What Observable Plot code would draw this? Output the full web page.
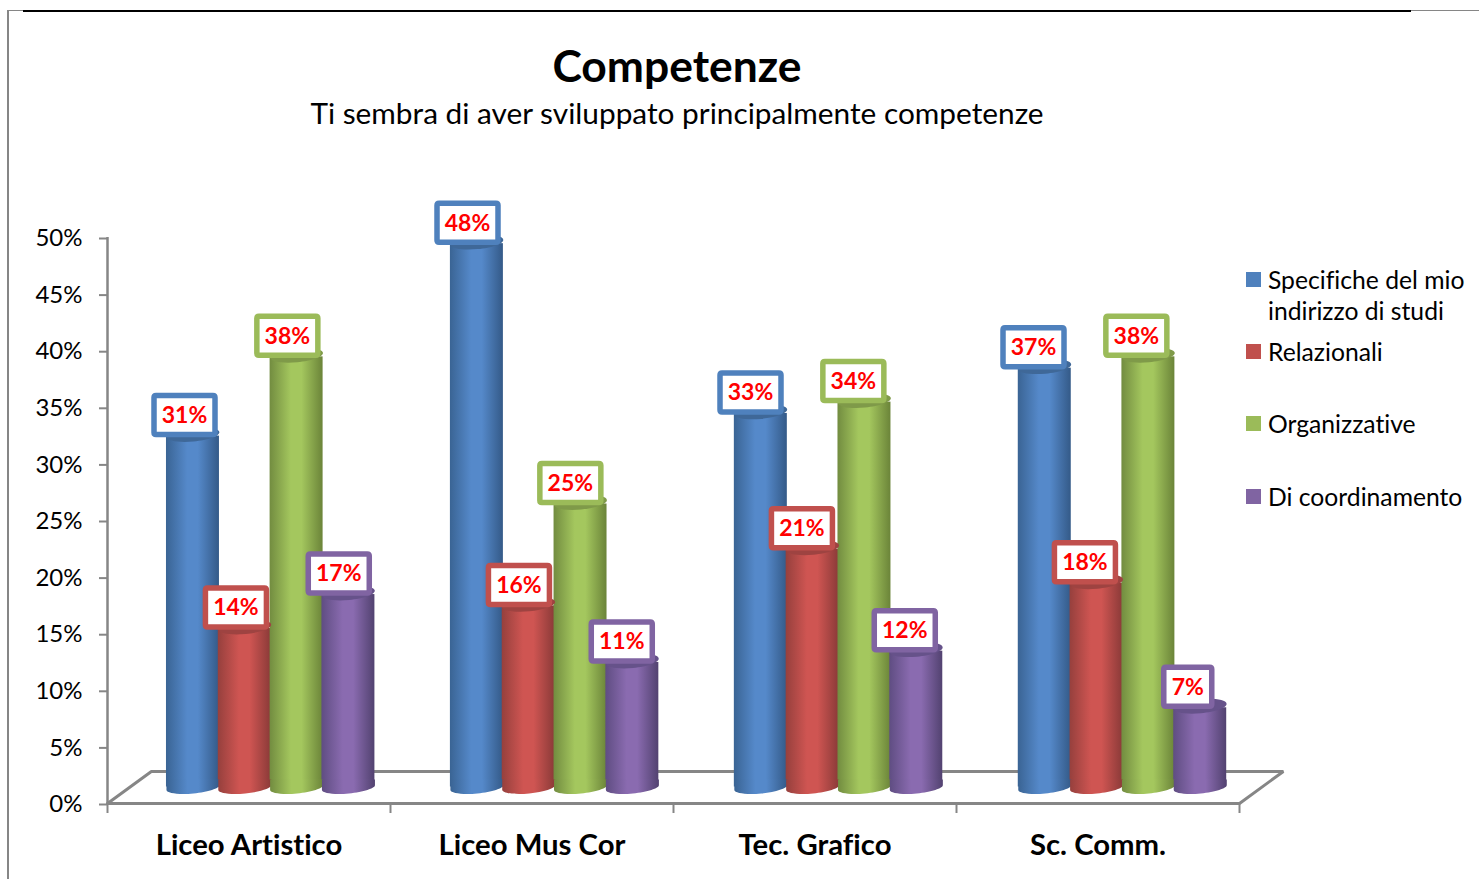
<!DOCTYPE html>
<html lang="it">
<head>
<meta charset="utf-8">
<script src="https://cdn.jsdelivr.net/npm/d3@7"></script>
<script src="https://cdn.jsdelivr.net/npm/@observablehq/plot@0.6"></script>
<style>
  html, body { margin: 0; padding: 0; background: #fff; }
  #page { position: relative; width: 1479px; height: 879px; overflow: hidden; font-family: Lato, sans-serif; color: #000; }
  #page, #page * { font-variant-ligatures: none !important; font-feature-settings: "liga" 0, "clig" 0 !important; }
  #frame { position: absolute; left: 7px; top: 10px; right: 0; bottom: -5px; border-left: 2px solid #868686; border-top: 1px solid #868686; }
  #rule { position: absolute; left: 23px; top: 10px; width: 1388px; height: 2px; background: #000; }
  #title, #subtitle { position: absolute; left: 0; width: 1354px; text-align: center; white-space: nowrap; }
  #title { top: 37px; font-size: 44.4px; line-height: 56px; font-weight: 700; }
  #subtitle { top: 95px; font-size: 29.8px; line-height: 36px; }
  #legend div.item { position: absolute; left: 1268px; font-size: 24.7px; line-height: 31px; white-space: nowrap; }
  #legend i { position: absolute; left: -22px; top: 8px; width: 15px; height: 15px; }
  svg { position: absolute; left: 0; top: 0; overflow: visible; }
</style>
</head>
<body>
<div id="page">
  <div id="frame"></div>
  <div id="rule"></div>
  <div id="title">Competenze</div>
  <div id="subtitle">Ti sembra di aver sviluppato principalmente competenze</div>
  <div id="legend"></div>
</div>
<script>
const categories = ["Liceo Artistico", "Liceo Mus Cor", "Tec. Grafico", "Sc. Comm."];
const seriesNames = ["Specifiche del mio\nindirizzo di studi", "Relazionali", "Organizzative", "Di coordinamento"];
const specifiche = [31, 48, 33, 37];
const relazionali = [14, 16, 21, 18];
const organizzative = [38, 25, 34, 38];
const coordinamento = [17, 11, 12, 7];
const yTicks = [0, 5, 10, 15, 20, 25, 30, 35, 40, 45, 50];
const seriesColors = ["#4f81bd", "#c0504d", "#9bbb59", "#8064a2"];
const gradientLeft = ["#3a6494", "#96403d", "#728c40", "#5f4d82"];
const gradientMid = ["#5589ca", "#cf5552", "#a4c75e", "#8a6bb0"];
const gradientRight = ["#345a88", "#8a3a38", "#6b8439", "#524270"];
const capColors = ["#3f6898", "#9e4341", "#7f9a49", "#66528a"];
const legendTops = [264, 336, 408, 481];

const allValues = [specifiche, relazionali, organizzative, coordinamento];

// layout in data units of the x scale (one unit = one category)
const step = 0.1831, first = 0.302, halfBar = 0.0936, groupGap = 1.0033;
const labelFirst = 0.2721, labelStep = 0.1817;
const rows = categories.flatMap((cat, i) => allValues.map((vals, j) => {
  const xc = first + i * groupGap + j * step;
  return {cat, series: j, value: vals[i], xc, xl: labelFirst + i + j * labelStep, x1: xc - halfBar, x2: xc + halfBar, color: seriesColors[j], cap: capColors[j], grad: `url(#bar${j})`};
}));
const floorDepthX = 0.155, floorDepthY = 2.83;
const floor = [[0, 0], [floorDepthX, floorDepthY], [categories.length + floorDepthX, floorDepthY], [categories.length, 0], [0, 0]];

// ellipse tilted slightly, right side up, as in the 3D cylinders
const tilted = tilt => {
  const cos = Math.cos(tilt), sin = Math.sin(tilt);
  return (x, y) => [x * cos + y * sin, -x * sin + y * cos];
};
const ellipse = (rx, ry, tilt = 0.095) => ({draw(c) {
  const k = 0.5523, p = tilted(tilt);
  c.moveTo(...p(-rx, 0));
  c.bezierCurveTo(...p(-rx, -ry * k), ...p(-rx * k, -ry), ...p(0, -ry));
  c.bezierCurveTo(...p(rx * k, -ry), ...p(rx, -ry * k), ...p(rx, 0));
  c.bezierCurveTo(...p(rx, ry * k), ...p(rx * k, ry), ...p(0, ry));
  c.bezierCurveTo(...p(-rx * k, ry), ...p(-rx, ry * k), ...p(-rx, 0));
  c.closePath();
}});
// lower half of the tilted ellipse with straight sides rising into the bar
const cylinderBase = (rx, ry, rise, tilt = 0.095) => ({draw(c) {
  const k = 0.5523, p = tilted(tilt), left = p(-rx, 0), right = p(rx, 0);
  c.moveTo(-rx, -rise);
  c.lineTo(-rx, left[1]);
  c.bezierCurveTo(...p(-rx, ry * k), ...p(-rx * k, ry), ...p(0, ry));
  c.bezierCurveTo(...p(rx * k, ry), ...p(rx, ry * k), rx, right[1]);
  c.lineTo(rx, -rise);
  c.closePath();
}});
const roundBox = (w, h, r) => ({draw(c) {
  c.moveTo(-w + r, -h);
  c.lineTo(w - r, -h); c.quadraticCurveTo(w, -h, w, -h + r);
  c.lineTo(w, h - r); c.quadraticCurveTo(w, h, w - r, h);
  c.lineTo(-w + r, h); c.quadraticCurveTo(-w, h, -w, h - r);
  c.lineTo(-w, -h + r); c.quadraticCurveTo(-w, -h, -w + r, -h);
  c.closePath();
}});

const defs = () => {
  const d = d3.create("svg:defs");
  seriesColors.forEach((_, j) => {
    const g = d.append("linearGradient").attr("id", `bar${j}`).attr("x1", 0).attr("x2", 1).attr("y1", 0).attr("y2", 0);
    [[0, gradientLeft[j]], [0.4, gradientMid[j]], [0.6, gradientMid[j]], [1, gradientRight[j]]]
      .forEach(([o, c]) => g.append("stop").attr("offset", o).attr("stop-color", c));
  });
  return d.node();
};

const plot = Plot.plot({
  width: 1479, height: 879,
  marginLeft: 107, marginRight: 240, marginTop: 237, marginBottom: 76,
  style: {fontFamily: "Lato, sans-serif", background: "transparent"},
  x: {type: "linear", domain: [0, categories.length]},
  y: {type: "linear", domain: [0, 50]},
  color: {type: "identity"},
  marks: [
    defs,
    Plot.line(floor, {x: d => d[0], y: d => d[1], stroke: "#868686", strokeWidth: 3, strokeLinejoin: "miter"}),
    Plot.ruleX([0], {y1: 0, y2: 50, stroke: "#868686", strokeWidth: 2.5}),
    Plot.axisY({ticks: yTicks, tickFormat: d => d + "%", tickSize: 8, tickPadding: 17, fontSize: 24, dy: 1, stroke: "#868686", fill: "#000", strokeWidth: 2, label: null}),
    Plot.axisX({ticks: d3.range(categories.length + 1), tickFormat: () => "", tickSize: 10, stroke: "#868686", strokeWidth: 2, label: null}),
    Plot.axisX({ticks: categories.map((_, i) => i + 0.5), tickFormat: d => categories[d - 0.5], tickSize: 0, tickPadding: 31, fontSize: 29.3, fontWeight: 700, fill: "#000", label: null}),
    Plot.rect(rows, {x1: "x1", x2: "x2", y1: 0, y2: "value", dy: -16.5, fill: d => d.grad, inset: 0}),
    Plot.dot(rows, {x: "xc", y: 0, dy: -16, symbol: cylinderBase(26.5, 6, 8), fill: d => d.grad, stroke: "none"}),
    Plot.dot(rows, {x: "xc", y: "value", dy: -18, symbol: ellipse(26.5, 7), fill: d => d.cap, stroke: "none"}),
    Plot.dot(rows.filter(d => d.value >= 10), {x: "xl", y: "value", dy: -37.5, symbol: roundBox(30.5, 19.5, 2), fill: "#fff", stroke: d => d.color, strokeWidth: 5.5}),
    Plot.dot(rows.filter(d => d.value < 10), {x: "xl", y: "value", dy: -37.5, symbol: roundBox(24, 19.5, 2), fill: "#fff", stroke: d => d.color, strokeWidth: 5.5}),
    Plot.text(rows, {x: "xl", y: "value", dy: -37, text: d => d.value + "%", fill: "#ff0000", fontSize: 23, fontWeight: 700})
  ]
});
document.getElementById("page").appendChild(plot);

const legend = d3.select("#legend");
seriesNames.forEach((name, j) => {
  const item = legend.append("div").attr("class", "item").style("top", legendTops[j] + "px");
  item.append("i").style("background", seriesColors[j]);
  name.split("\n").forEach(t => item.append("div").text(t));
});
</script>
</body>
</html>
